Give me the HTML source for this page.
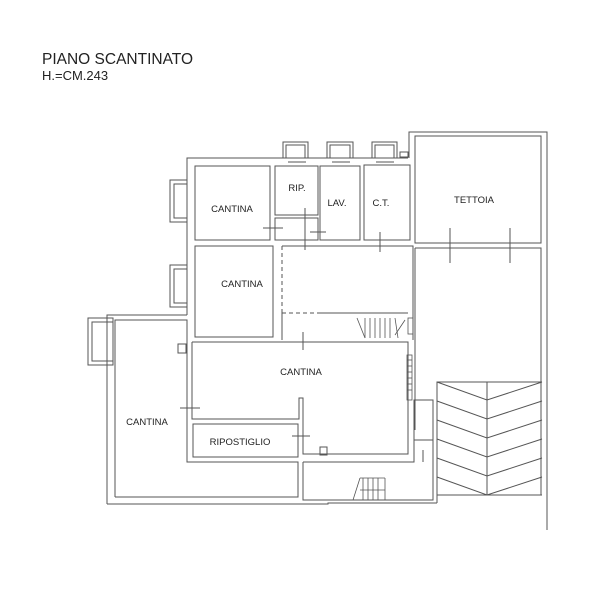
<!DOCTYPE html>
<html><head><meta charset="utf-8"><style>
html,body{margin:0;padding:0;background:#fff;}
svg{display:block;}
text{font-family:"Liberation Sans",Arial,sans-serif;fill:#222;}
</style></head><body>
<svg width="615" height="615" viewBox="0 0 615 615" xmlns="http://www.w3.org/2000/svg">
<text x="42" y="64" font-size="15.5">PIANO SCANTINATO</text>
<text x="42" y="80" font-size="13">H.=CM.243</text>
<g fill="none" stroke="#555" stroke-width="1">
<polyline points="187,315 187,158 408,158"/>
<rect x="283" y="142" width="25" height="16"/><rect x="286" y="145" width="19" height="13"/>
<rect x="327" y="142" width="26" height="16"/><rect x="330" y="145" width="20" height="13"/>
<rect x="372" y="142" width="25" height="16"/><rect x="375" y="145" width="19" height="13"/>
<line x1="288" y1="162" x2="306" y2="162"/><line x1="332" y1="162" x2="350" y2="162"/><line x1="376" y1="162" x2="394" y2="162"/>
<rect x="400" y="152" width="8" height="5"/>
<rect x="170" y="180" width="17" height="42"/><rect x="174" y="184" width="13" height="34"/>
<rect x="170" y="265" width="17" height="42"/><rect x="174" y="269" width="13" height="34"/>
<rect x="88" y="318" width="25" height="47"/><rect x="92" y="322" width="21" height="39"/>
<polyline points="409,158 409,132 547,132 547,530"/>
<rect x="415" y="136" width="126" height="107"/>
<polyline points="415,248 541,248 541,495"/>
<line x1="415" y1="248" x2="415" y2="430"/>
<line x1="450" y1="228" x2="450" y2="263"/><line x1="510" y1="228" x2="510" y2="263"/>
<rect x="195" y="166" width="75" height="74"/>
<rect x="275" y="166" width="43" height="49"/>
<rect x="275" y="218" width="43" height="22"/>
<rect x="320" y="166" width="40" height="74"/>
<rect x="364" y="165" width="46" height="75"/>
<line x1="263" y1="228" x2="283" y2="228"/><line x1="305" y1="208" x2="305" y2="250"/>
<line x1="310" y1="232" x2="326" y2="232"/><line x1="380" y1="232" x2="380" y2="252"/>
<rect x="195" y="246" width="78" height="91"/>
<polyline points="282,246 413,246 413,340"/>
<line x1="282" y1="246" x2="282" y2="313" stroke-dasharray="4,3"/>
<line x1="282" y1="313" x2="317" y2="313" stroke-dasharray="4,3"/>
<line x1="317" y1="313" x2="408" y2="313"/>
<line x1="282" y1="313" x2="282" y2="340"/>
<g stroke-width="0.8">
<line x1="357" y1="318" x2="365" y2="338"/><line x1="365" y1="318" x2="365" y2="338"/><line x1="370" y1="318" x2="370" y2="338"/><line x1="375" y1="318" x2="375" y2="338"/><line x1="380" y1="318" x2="380" y2="338"/><line x1="385" y1="318" x2="385" y2="338"/><line x1="390" y1="318" x2="390" y2="338"/><line x1="395" y1="318" x2="398" y2="338"/><line x1="405" y1="320" x2="395" y2="335"/>
<rect x="408" y="318" width="5" height="16"/><rect x="407" y="355" width="5" height="45"/>
<line x1="407" y1="360" x2="412" y2="360"/><line x1="407" y1="366" x2="412" y2="366"/><line x1="407" y1="372" x2="412" y2="372"/><line x1="407" y1="378" x2="412" y2="378"/><line x1="407" y1="384" x2="412" y2="384"/><line x1="407" y1="390" x2="412" y2="390"/>
</g>
<polyline points="107,504 107,315 187,315"/>
<polyline points="115,497 115,320 187,320 187,462 298,462 298,497 115,497"/>
<polyline points="107,504 328,504 328,503 437,503"/>
<rect x="178" y="344" width="8" height="9"/>
<line x1="180" y1="408" x2="200" y2="408"/>
<polyline points="192,342 408,342 408,454 303,454 303,398 299,398 299,419 192,419 192,342"/>
<line x1="303" y1="332" x2="303" y2="350"/>
<rect x="193" y="424" width="105" height="33"/>
<line x1="292" y1="436" x2="310" y2="436"/>
<rect x="320" y="447" width="7" height="8"/>
<polyline points="303,462 414,462 414,400 433,400 433,500 303,500 303,462"/>
<line x1="414" y1="440" x2="433" y2="440"/><line x1="423" y1="450" x2="423" y2="462"/>
<g stroke-width="0.8">
<line x1="353" y1="500" x2="360" y2="478"/><line x1="360" y1="478" x2="385" y2="478"/>
<line x1="363" y1="478" x2="363" y2="500"/><line x1="368" y1="478" x2="368" y2="500"/><line x1="373" y1="478" x2="373" y2="500"/><line x1="378" y1="478" x2="378" y2="500"/><line x1="385" y1="478" x2="385" y2="500"/>
<line x1="360" y1="490" x2="385" y2="490"/>
</g>
<polyline points="437,503 437,382 542,382"/>
<line x1="437" y1="495" x2="542" y2="495"/>
<line x1="487" y1="382" x2="487" y2="495"/>
<polyline points="437,382 487,400 542,382"/>
<polyline points="437,401 487,419 542,401"/>
<polyline points="437,420 487,438 542,420"/>
<polyline points="437,439 487,457 542,439"/>
<polyline points="437,458 487,476 542,458"/>
<polyline points="437,477 487,495 542,477"/>
</g>
<g font-size="9.5" text-anchor="middle">
<text x="232" y="212">CANTINA</text>
<text x="297" y="191">RIP.</text>
<text x="337" y="206">LAV.</text>
<text x="381" y="206">C.T.</text>
<text x="474" y="203">TETTOIA</text>
<text x="242" y="287">CANTINA</text>
<text x="301" y="375">CANTINA</text>
<text x="147" y="425">CANTINA</text>
<text x="240" y="445">RIPOSTIGLIO</text>
</g>
</svg>
</body></html>
